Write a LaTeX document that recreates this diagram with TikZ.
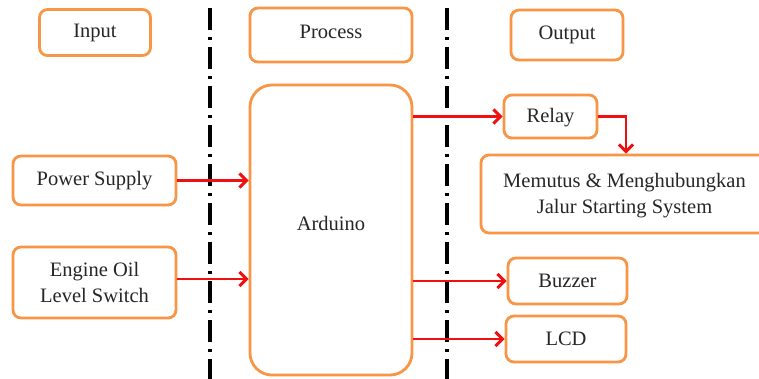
\documentclass[tikz,border=0pt]{standalone}
\usepackage{fontspec}
\setmainfont{Liberation Serif}
\usetikzlibrary{arrows.meta}
\definecolor{boxorange}{HTML}{F79646}
\definecolor{arrred}{HTML}{F01010}
\begin{document}
\begin{tikzpicture}[x=1pt,y=-1pt,
  box/.style={draw=boxorange, line width=2.8pt, rounded corners=8pt, fill=white,
    inner sep=0pt, font=\fontsize{20.5}{26}\selectfont, align=center, text=black!85},
  conn/.style={draw=arrred, line width=2.8pt, -{Straight Barb[length=7pt,width=14pt,line width=3pt]}},
  divider/.style={line width=3.5pt, dash pattern=on 22pt off 7pt on 3pt off 7pt}]
\useasboundingbox (0,0) rectangle (759,378);
\fill[white] (0,0) rectangle (759,378);
% dividers
\draw[divider] (210,8) -- (210,380);
\draw[divider] (447,8) -- (447,380);
% headers
\node[box, minimum width=111pt, minimum height=46pt] (input) at (95,32.5) {Input};
\node[box, minimum width=162pt, minimum height=54pt] (process) at (331,35) {};
\node[font=\fontsize{20.5}{26}\selectfont, text=black!85] (proctxt) at (331,32) {Process};
\node[box, minimum width=112pt, minimum height=50pt] (output) at (567,35) {Output};
% arduino
\node[box, rounded corners=22pt, minimum width=162pt, minimum height=290pt] (ard) at (331,230) {};
\node[font=\fontsize{20.5}{26}\selectfont, text=black!85] (ardtxt) at (331,223) {Arduino};
% inputs
\node[box, minimum width=163pt, minimum height=49pt] (ps) at (94.5,180.5) {Power Supply};
\node[box, minimum width=163pt, minimum height=71pt] (eng) at (94.5,282.5) {Engine Oil\\Level Switch};
% outputs
\node[box, minimum width=93pt, minimum height=43pt] (relay) at (550.5,116.5) {};
\node[font=\fontsize{20.5}{26}\selectfont, text=black!85] (relaytxt) at (550.5,118) {Relay};
\node[box, minimum width=287pt, minimum height=78pt] (mem) at (624.5,194) {};
\node[font=\fontsize{20.5}{26}\selectfont, text=black!85, align=center] (memtxt) at (624.5,196) {Memutus \& Menghubungkan\\Jalur Starting System};
\node[box, minimum width=119pt, minimum height=46pt] (buzz) at (567.5,281) {Buzzer};
\node[box, minimum width=120pt, minimum height=46pt] (lcd) at (566,339) {LCD};
% connectors
\draw[conn] (ps.east) -- (ps.east -| ard.west);
\draw[conn] (eng.east |- 0,279) -- (ard.west |- 0,279);
\draw[conn] (ard.east |- relay.west) -- (relay.west);
\draw[conn] (ard.east |- buzz.west) -- (buzz.west);
\draw[conn] (ard.east |- lcd.west) -- (lcd.west);
\draw[conn] (relay.east) -- (626,116.5) -- (mem.north -| 626,0);
\end{tikzpicture}
\end{document}
